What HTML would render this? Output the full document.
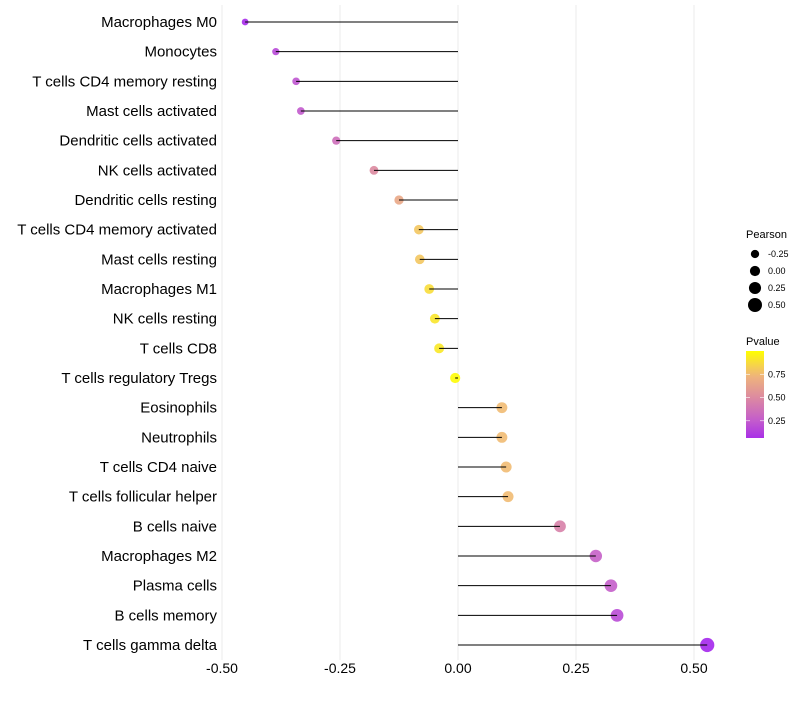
<!DOCTYPE html>
<html><head><meta charset="utf-8"><style>
body{margin:0;background:#fff;font-family:"Liberation Sans",sans-serif}
</style></head><body>
<svg id="c" width="800" height="700" xmlns="http://www.w3.org/2000/svg" font-family="Liberation Sans, sans-serif"></svg>
<script>
const cells=["Macrophages M0","Monocytes","T cells CD4 memory resting","Mast cells activated","Dendritic cells activated","NK cells activated","Dendritic cells resting","T cells CD4 memory activated","Mast cells resting","Macrophages M1","NK cells resting","T cells CD8","T cells regulatory  Tregs","Eosinophils","Neutrophils","T cells CD4 naive","T cells follicular helper","B cells naive","Macrophages M2","Plasma cells","B cells memory","T cells gamma delta"];
const pearson=[-0.451,-0.386,-0.343,-0.333,-0.258,-0.178,-0.125,-0.083,-0.081,-0.061,-0.049,-0.040,-0.006,0.093,0.093,0.102,0.106,0.216,0.292,0.324,0.337,0.528];
const pvalue=[0.04,0.17,0.22,0.24,0.35,0.5,0.66,0.8,0.8,0.88,0.91,0.92,0.99,0.76,0.76,0.76,0.76,0.45,0.27,0.26,0.18,0.03];
const xTicks=[-0.5,-0.25,0,0.25,0.5];
const xTickLabels=["-0.50","-0.25","0.00","0.25","0.50"];
const sizeLegend=[-0.25,0,0.25,0.5];
const sizeLegendLabels=["-0.25","0.00","0.25","0.50"];
const colorLegend=[0.75,0.5,0.25];
const colorLegendLabels=["0.75","0.50","0.25"];

const NS="http://www.w3.org/2000/svg",svg=document.getElementById('c');
const X=v=>458+v*472;
const Y=i=>22+i*(645-22)/21;
const R=p=>Math.max(1.6,5.1+3.8*p);
const stops=[[0,[160,32,240]],[0.25,[195,92,204]],[0.5,[220,138,160]],[0.75,[240,184,120]],[1,[255,255,0]]];
function col(p){for(let k=1;k<stops.length;k++){if(p<=stops[k][0]){const a=stops[k-1],b=stops[k],t=(p-a[0])/(b[0]-a[0]);return 'rgb('+a[1].map((c,j)=>Math.round(c+(b[1][j]-c)*t)).join(',')+')';}}return 'rgb(255,255,0)';}
function el(t,a,txt){const e=document.createElementNS(NS,t);for(const k in a)e.setAttribute(k,a[k]);if(txt!=null)e.textContent=txt;svg.appendChild(e);return e;}

xTicks.forEach((v,i)=>{
 const g=el('line',{x1:X(v),x2:X(v),y1:5,y2:660,stroke:'#ebebeb','stroke-width':1});
 
 
 const t=el('text',{x:X(v),y:673,'text-anchor':'middle','font-size':14,fill:'#000'},xTickLabels[i]);
 
 
});
cells.forEach((n,i)=>{
 const y=Y(i);
 const t=el('text',{x:217,y:y+5,'text-anchor':'end','font-size':15,fill:'#000'},n);
 
 
 const c=el('circle',{cx:X(pearson[i]),cy:y,r:R(pearson[i]),fill:col(pvalue[i]),'fill-opacity':0.9});
 
 
 const s=el('line',{x1:X(pearson[i]),x2:X(0),y1:y,y2:y,stroke:'#000','stroke-width':1});
 
 
});
let t=el('text',{x:746,y:238,'font-size':11},'Pearson');


sizeLegend.forEach((v,i)=>{
 const y=254+i*17;
 const c=el('circle',{cx:755,cy:y,r:R(v),fill:'#000'});
 
 
 const l=el('text',{x:768,y:y+3,'font-size':9},sizeLegendLabels[i]);
 
 
});
t=el('text',{x:746,y:345,'font-size':11},'Pvalue');


const defs=el('defs',{});
const lg=document.createElementNS(NS,'linearGradient');lg.setAttribute('id','g');lg.setAttribute('x1',0);lg.setAttribute('x2',0);lg.setAttribute('y1',1);lg.setAttribute('y2',0);
for(let k=0;k<=10;k++){const p=0.065+(1-0.065)*k/10;const s=document.createElementNS(NS,'stop');s.setAttribute('offset',k/10);s.setAttribute('stop-color',col(p));lg.appendChild(s);}
defs.appendChild(lg);
const bar=el('rect',{x:746,y:351,width:18,height:87,fill:'url(#g)'});


const PY=v=>351+(1-v)*(87/(1-0.065));
colorLegend.forEach((v,i)=>{
 const l=el('text',{x:768,y:PY(v)+3,'font-size':9},colorLegendLabels[i]);
 
 
 el('line',{x1:746,x2:750,y1:PY(v),y2:PY(v),stroke:'#fff','stroke-width':0.6});
 el('line',{x1:760,x2:764,y1:PY(v),y2:PY(v),stroke:'#fff','stroke-width':0.6});
});
</script>
</body></html>
